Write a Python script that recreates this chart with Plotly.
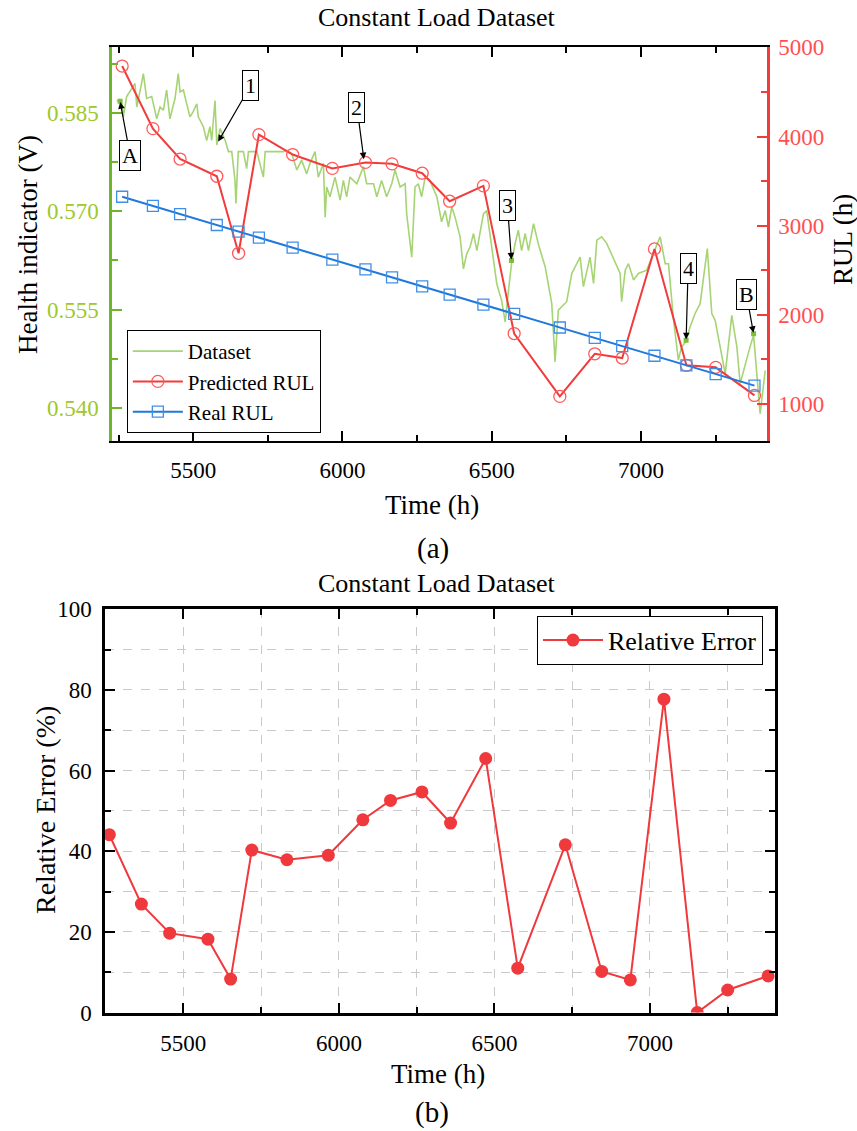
import plotly.graph_objects as go

# ---------------------------------------------------------------- data
# Prediction checkpoints (h)
time_h = [5262, 5365, 5456, 5579, 5652, 5720, 5833, 5966, 6077, 6166, 6267,
          6359, 6472, 6575, 6728, 6845, 6937, 7045, 7152, 7250, 7380]
real_rul = [3325, 3222, 3131, 3008, 2935, 2867, 2754, 2621, 2510, 2421, 2320,
            2228, 2115, 2012, 1859, 1742, 1650, 1542, 1435, 1337, 1207]
pred_rul = [4791, 4089, 3748, 3555, 2691, 4022, 3798, 3643, 3710, 3694, 3589,
            3275, 3447, 1791, 1086, 1564, 1516, 2740, 1435, 1412, 1097]
rel_error = [44.1, 26.9, 19.7, 18.2, 8.3, 40.3, 37.9, 39.0, 47.8, 52.6, 54.7,
             47.0, 63.0, 11.0, 41.6, 10.2, 8.1, 77.7, 0.0, 5.6, 9.1]

# Health indicator (stack voltage) of the constant load dataset
hi_time = [5244, 5260, 5266, 5277, 5305, 5311, 5327, 5333, 5344, 5361, 5378,
           5389, 5400, 5411, 5422, 5439, 5450, 5456, 5467, 5478, 5489, 5500,
           5512, 5517, 5534, 5545, 5556, 5562, 5573, 5579, 5590, 5607, 5618,
           5629, 5640, 5643, 5651, 5668, 5679, 5685, 5713, 5735, 5741, 5757,
           5802, 5813, 5830, 5847, 5863, 5880, 5891, 5908, 5919, 5936, 5942,
           5947, 5958, 5975, 5992, 6003, 6014, 6025, 6048, 6070, 6081, 6104,
           6115, 6131, 6148, 6165, 6176, 6193, 6210, 6215, 6232, 6243, 6254,
           6265, 6277, 6293, 6316, 6332, 6344, 6355, 6366, 6377, 6394, 6405,
           6416, 6427, 6439, 6450, 6461, 6472, 6483, 6517, 6533, 6545, 6556,
           6567, 6578, 6589, 6600, 6612, 6623, 6640, 6656, 6679, 6701, 6712,
           6723, 6751, 6768, 6785, 6796, 6807, 6818, 6829, 6841, 6852, 6868,
           6885, 6930, 6935, 6947, 6958, 6975, 6991, 7019, 7042, 7064, 7081,
           7092, 7109, 7125, 7136, 7150, 7164, 7181, 7198, 7215, 7222, 7237,
           7248, 7265, 7282, 7304, 7321, 7332, 7349, 7365, 7377, 7388, 7399,
           7416]
hi_volt = [0.5869, 0.5867, 0.5844, 0.5875, 0.5895, 0.5859, 0.5895, 0.5910,
           0.5872, 0.5875, 0.5841, 0.5859, 0.5854, 0.5885, 0.5841, 0.5872,
           0.5910, 0.5882, 0.5885, 0.5862, 0.5844, 0.5852, 0.5864, 0.5844,
           0.5829, 0.5808, 0.5829, 0.5808, 0.5869, 0.5801, 0.5826, 0.5808,
           0.5791, 0.5791, 0.5747, 0.5712, 0.5791, 0.5791, 0.5765, 0.5791,
           0.5791, 0.5752, 0.5791, 0.5791, 0.5791, 0.5793, 0.5788, 0.5763,
           0.5778, 0.5757, 0.5773, 0.5791, 0.5752, 0.5773, 0.5691, 0.5737,
           0.5722, 0.5752, 0.5717, 0.5747, 0.5722, 0.5752, 0.5742, 0.5768,
           0.5742, 0.5742, 0.5722, 0.5747, 0.5722, 0.5742, 0.5763, 0.5737,
           0.5742, 0.5696, 0.5630, 0.5737, 0.5742, 0.5722, 0.5752, 0.5747,
           0.5722, 0.5684, 0.5701, 0.5676, 0.5707, 0.5691, 0.5661, 0.5612,
           0.5635, 0.5645, 0.5666, 0.5640, 0.5671, 0.5696, 0.5701, 0.5589,
           0.5564, 0.5531, 0.5579, 0.5623, 0.5650, 0.5671, 0.5640, 0.5666,
           0.5640, 0.5681, 0.5650, 0.5615, 0.5559, 0.5470, 0.5549, 0.5562,
           0.5605, 0.5620, 0.5630, 0.5585, 0.5610, 0.5630, 0.5590, 0.5656,
           0.5661, 0.5651, 0.5605, 0.5562, 0.5610, 0.5620, 0.5595, 0.5605,
           0.5610, 0.5635, 0.5661, 0.5620, 0.5620, 0.5534, 0.5473, 0.5493,
           0.5501, 0.5523, 0.5544, 0.5559, 0.5625, 0.5643, 0.5544, 0.5534,
           0.5493, 0.5452, 0.5541, 0.5493, 0.5437, 0.5467, 0.5493, 0.5511,
           0.5457, 0.5391, 0.5457]

# Highlighted points on the health indicator
key_labels = ["A", "1", "2", "3", "4", "B"]
key_time = [5255, 5582, 6072, 6566, 7151, 7377]
key_volt = [0.5868, 0.5805, 0.5778, 0.5625, 0.5503, 0.5513]
marked_labels = ["A", "3", "4", "B"]

# ---------------------------------------------------------------- styling
SERIF = "Liberation Serif"
GREEN_AXIS = "#6fb52a"
GREEN_TEXT = "#a0c82a"
GREEN_LINE = "#a6d474"
RED = "#f23b3b"
RED_TEXT = "#ff5050"
BLUE = "#1f78dc"
GRID = "#c9c9c9"

TOP_X_RANGE = [5228, 7422]
BOT_X_RANGE = [5248, 7402]
ERR_RANGE = [0, 100]

# label box offsets (px) from the point each callout arrow targets
callout_offsets = {"A": (10, 54), "1": (33, -57), "2": (-7, -53),
                   "3": (-4, -55), "4": (2, -72), "B": (-7, -39)}

fig = go.Figure()

fig.add_trace(go.Scatter(
    x=hi_time, y=hi_volt, name="Dataset", mode="lines",
    line=dict(color=GREEN_LINE, width=1.6), xaxis="x", yaxis="y"))

mk_t = [t for t, l in zip(key_time, key_labels) if l in marked_labels]
mk_v = [v for v, l in zip(key_volt, key_labels) if l in marked_labels]
fig.add_trace(go.Scatter(
    x=mk_t, y=mk_v, mode="markers", showlegend=False,
    marker=dict(symbol="square", size=5, color="#7cbf3a"),
    xaxis="x", yaxis="y"))

fig.add_trace(go.Scatter(
    x=time_h, y=pred_rul, name="Predicted RUL", mode="lines+markers",
    line=dict(color=RED, width=2),
    marker=dict(symbol="circle-open", size=12, color="#ff5a5a",
                line=dict(width=1.3)),
    xaxis="x", yaxis="y2"))

fig.add_trace(go.Scatter(
    x=time_h, y=real_rul, name="Real RUL", mode="lines+markers",
    line=dict(color=BLUE, width=2),
    marker=dict(symbol="square-open", size=11, color="#3f8fe8",
                line=dict(width=1.3)),
    xaxis="x", yaxis="y2"))

fig.add_trace(go.Scatter(
    x=time_h, y=rel_error, name="Relative Error", mode="lines+markers",
    line=dict(color="#f0393d", width=2),
    marker=dict(symbol="circle", size=13, color="#f0393d"),
    xaxis="x2", yaxis="y3", legend="legend2"))

# empty traces so the frame axes (top / right tick rows) are rendered
for xa, ya in (("x3", "y"), ("x4", "y3"), ("x2", "y4")):
    fig.add_trace(go.Scatter(x=[], y=[], xaxis=xa, yaxis=ya,
                             showlegend=False, hoverinfo="skip"))

tick_font = dict(family=SERIF, size=23, color="black")
major = dict(ticks="inside", ticklen=10, tickwidth=2, tickcolor="black")


def frame_axis(**kw):
    base = dict(showticklabels=False, showgrid=False, zeroline=False,
                showline=True, linecolor="black", linewidth=2.5,
                automargin=False, **major)
    base.update(kw)
    return base


fig.update_layout(
    width=857, height=1131,
    margin=dict(l=0, r=0, t=0, b=0, autoexpand=False),
    paper_bgcolor="white", plot_bgcolor="white",
    xaxis=dict(
        domain=[0.1307, 0.8950], anchor="y", range=TOP_X_RANGE,
        automargin=False,
        tickmode="linear", tick0=5000, dtick=500, **major,
        minor=dict(ticks="inside", ticklen=6, tickwidth=1.5,
                   tickcolor="black", dtick=250),
        showline=True, linecolor="black", linewidth=2,
        showgrid=False, zeroline=False, tickfont=tick_font,
        ticklabelstandoff=8),
    xaxis3=frame_axis(
        overlaying="x", anchor="y", side="top", range=TOP_X_RANGE,
        tickmode="linear", tick0=5000, dtick=500, linewidth=2,
        minor=dict(ticks="inside", ticklen=6, tickwidth=1.5,
                   tickcolor="black", dtick=250)),
    yaxis=dict(
        domain=[0.6104, 0.9581], anchor="x", range=[0.535, 0.595],
        automargin=False,
        tickmode="linear", tick0=0.540, dtick=0.015, tickformat=".3f",
        ticks="inside", ticklen=10, tickwidth=2, tickcolor=GREEN_AXIS,
        minor=dict(ticks="inside", ticklen=6, tickwidth=1.5,
                   tickcolor=GREEN_AXIS, dtick=0.0075),
        showline=True, linecolor=GREEN_AXIS, linewidth=2.5,
        showgrid=False, zeroline=False,
        tickfont=dict(family=SERIF, size=23, color=GREEN_TEXT),
        ticklabelstandoff=6),
    yaxis2=dict(
        overlaying="y", side="right", anchor="x", range=[590, 5000],
        automargin=False,
        tickmode="linear", tick0=1000, dtick=1000,
        ticks="inside", ticklen=10, tickwidth=2, tickcolor=RED,
        minor=dict(ticks="inside", ticklen=6, tickwidth=1.5,
                   tickcolor=RED, dtick=500),
        showline=True, linecolor=RED, linewidth=2.5,
        showgrid=False, zeroline=False,
        tickfont=dict(family=SERIF, size=23, color=RED_TEXT),
        ticklabelstandoff=4),
    xaxis2=dict(
        domain=[0.1225, 0.9043], anchor="y3", range=BOT_X_RANGE,
        automargin=False,
        tickmode="linear", tick0=5000, dtick=500, **major,
        minor=dict(ticks="inside", ticklen=6, tickwidth=1.5,
                   tickcolor="black", dtick=250, showgrid=True,
                   gridcolor=GRID, griddash="dash", gridwidth=1),
        showline=True, linecolor="black", linewidth=2.5,
        showgrid=True, gridcolor=GRID, griddash="dash", gridwidth=1,
        zeroline=False, tickfont=tick_font, ticklabelstandoff=8),
    xaxis4=frame_axis(
        overlaying="x2", anchor="y3", side="top", range=BOT_X_RANGE,
        tickmode="linear", tick0=5000, dtick=500,
        minor=dict(ticks="inside", ticklen=6, tickwidth=1.5,
                   tickcolor="black", dtick=250)),
    yaxis3=dict(
        domain=[0.1047, 0.4613], anchor="x2", range=ERR_RANGE,
        automargin=False,
        tickmode="linear", tick0=0, dtick=20, **major,
        minor=dict(ticks="inside", ticklen=6, tickwidth=1.5,
                   tickcolor="black", dtick=10, showgrid=True,
                   gridcolor=GRID, griddash="dash", gridwidth=1),
        showline=True, linecolor="black", linewidth=2.5,
        showgrid=True, gridcolor=GRID, griddash="dash", gridwidth=1,
        zeroline=False, tickfont=tick_font, ticklabelstandoff=6),
    yaxis4=frame_axis(
        overlaying="y3", anchor="x2", side="right", range=ERR_RANGE,
        tickmode="linear", tick0=0, dtick=20,
        minor=dict(ticks="inside", ticklen=6, tickwidth=1.5,
                   tickcolor="black", dtick=10)),
    legend=dict(
        x=0.148, y=0.6172, xanchor="left", yanchor="bottom",
        bgcolor="white", bordercolor="black", borderwidth=1,
        font=dict(family=SERIF, size=21, color="black"),
        itemwidth=50, tracegroupgap=0),
    legend2=dict(
        x=0.8903, y=0.4556, xanchor="right", yanchor="top",
        bgcolor="white", bordercolor="black", borderwidth=1,
        font=dict(family=SERIF, size=26, color="black"),
        itemwidth=60),
    showlegend=True,
)

# Callout boxes on the health indicator
for lab, t, v in zip(key_labels, key_time, key_volt):
    dx, dy = callout_offsets[lab]
    fig.add_annotation(
        x=t, y=v, xref="x", yref="y", text=lab, showarrow=True,
        ax=dx, ay=dy, arrowhead=2, arrowsize=1.1, arrowwidth=1.2,
        arrowcolor="black", standoff=1,
        bordercolor="black", borderwidth=1, borderpad=2, bgcolor="white",
        font=dict(family=SERIF, size=22, color="black"))

# Titles and axis labels
text_items = [
    ("Constant Load Dataset", 437, 18, 0, 26),
    ("Time (h)", 432, 505, 0, 27),
    ("(a)", 433, 548, 0, 29),
    ("Health indicator (V)", 28, 245, -90, 27),
    ("RUL (h)", 843, 240, -90, 27),
    ("Constant Load Dataset", 437, 583, 0, 26),
    ("Relative Error (%)", 45, 810, -90, 28),
    ("Time (h)", 438, 1074, 0, 27),
    ("(b)", 432, 1112, 0, 29),
]
for txt, px, py, ang, size in text_items:
    fig.add_annotation(
        x=px / 857, y=1 - py / 1131, xref="paper", yref="paper",
        text=txt, showarrow=False, textangle=ang,
        xanchor="center", yanchor="middle",
        font=dict(family=SERIF, size=size, color="black"))

fig.write_html("out.html")
